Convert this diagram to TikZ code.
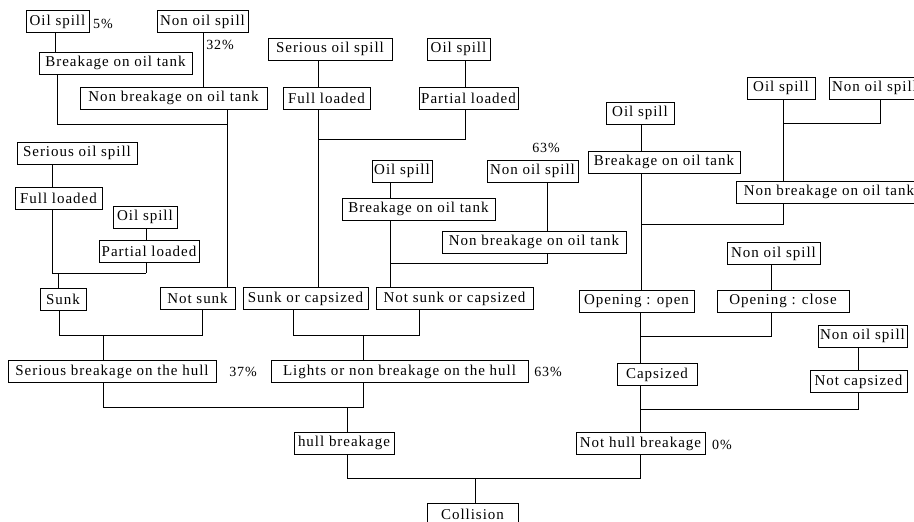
\documentclass[tikz,border=0pt]{standalone}
\usepackage{fontspec}
\setmainfont{Liberation Serif}[LetterSpace=6.5]
\begin{document}
\begin{tikzpicture}[x=1pt,y=-1pt,
  box/.style={draw, line width=0.9pt, inner sep=0pt, minimum height=22pt, font=\fontsize{15}{16}\selectfont},
  pct/.style={inner sep=0pt, font=\fontsize{14}{15}\selectfont},
  link/.style={line width=0.9pt}]
\useasboundingbox (0,0) rectangle (914,522);
\clip (0,0) rectangle (914,522);
% ---- nodes ----
\node[box, minimum width=63pt]  (os1)   at (57.5,21.5)  {Oil spill};
\node[box, minimum width=91pt]  (nos1)  at (202.5,21.5) {Non oil spill};
\node[box, minimum width=153pt] (bot1)  at (115.5,63)   {Breakage on oil tank};
\node[box, minimum width=187pt] (nbot1) at (173.5,98)   {Non breakage on oil tank};
\node[box, minimum width=120pt] (sos1)  at (77,153)     {Serious oil spill};
\node[box, minimum width=87pt]  (fl1)   at (58.5,198)   {Full loaded};
\node[box, minimum width=64pt]  (os2)   at (145,217)    {Oil spill};
\node[box, minimum width=100pt] (pl1)   at (149,251.5)  {Partial loaded};
\node[box, minimum width=46pt]  (sunk)  at (63,299)     {Sunk};
\node[box, minimum width=75pt]  (nsunk) at (197.5,298.5){Not sunk};
\node[box, minimum width=125pt] (soc)   at (305.5,298.5){Sunk or capsized};
\node[box, minimum width=157pt] (nsoc)  at (454.5,298.5){Not sunk or capsized};
\node[box, minimum width=208pt] (sbh)   at (112,371.5)  {Serious breakage on the hull};
\node[box, minimum width=257pt] (lnb)   at (399.5,371.5){Lights or non breakage on the hull};
\node[box, minimum width=100pt] (hb)    at (344,443)    {hull breakage};
\node[box, minimum width=129pt] (nhb)   at (640.5,443.5){Not hull breakage};
\node[box, minimum width=91pt]  (col)   at (472.5,514.5){Collision};
\node[box, minimum width=124pt] (sos2)  at (330,49)     {Serious oil spill};
\node[box, minimum width=63pt]  (os3)   at (458.5,49)   {Oil spill};
\node[box, minimum width=87pt]  (fl2)   at (326.5,98)   {Full loaded};
\node[box, minimum width=99pt]  (pl2)   at (468.5,98.5) {Partial loaded};
\node[box, minimum width=60pt]  (os4)   at (402,171)    {Oil spill};
\node[box, minimum width=91pt]  (nos2)  at (532.5,171)  {Non oil spill};
\node[box, minimum width=153pt] (bot2)  at (418.5,209)  {Breakage on oil tank};
\node[box, minimum width=184pt] (nbot2) at (534,242)    {Non breakage on oil tank};
\node[box, minimum width=68pt]  (os5)   at (640,113)    {Oil spill};
\node[box, minimum width=152pt] (bot3)  at (664,162)    {Breakage on oil tank};
\node[box, minimum width=68pt]  (os6)   at (781,88)     {Oil spill};
\node[box, minimum width=91pt]  (nos3)  at (874.5,88)   {Non oil spill};
\node[box, minimum width=186pt] (nbot3) at (829,192)    {Non breakage on oil tank};
\node[box, minimum width=115pt] (oo)    at (636.5,301)  {Opening : open};
\node[box, minimum width=93pt]  (nos4)  at (773.5,253.5){Non oil spill};
\node[box, minimum width=132pt] (oc)    at (783,301)    {Opening : close\hspace{12pt}};
\node[box, minimum width=80pt]  (cap)   at (657,374.5)  {Capsized};
\node[box, minimum width=89pt]  (nos5)  at (862.5,336)  {Non oil spill};
\node[box, minimum width=97pt]  (ncap)  at (858.5,381.5){Not capsized};
% ---- percentages ----
\node[pct, anchor=west] (p5)  at (93,24)   {5\%};
\node[pct] (p32) at (220,45)  {32\%};
\node[pct] (p63a) at (546,148) {63\%};
\node[pct] (p37) at (243,372) {37\%};
\node[pct] (p63b) at (548,372) {63\%};
\node[pct] (p0)  at (722,445) {0\%};
% ---- junction coordinates ----
\coordinate (A1) at (57,124);  \coordinate (A2) at (227,124);
\coordinate (B1) at (52,273);  \coordinate (B2) at (146,273); \coordinate (B3) at (58,273);
\coordinate (C1) at (59,335);  \coordinate (C2) at (202,335); \coordinate (C3) at (103,335);
\coordinate (D1) at (318,139); \coordinate (D2) at (465,139);
\coordinate (E1) at (390,263); \coordinate (E2) at (547,263);
\coordinate (F1) at (293,335); \coordinate (F2) at (419,335); \coordinate (F3) at (363,335);
\coordinate (G1) at (103,407); \coordinate (G2) at (363,407); \coordinate (G3) at (347,407);
\coordinate (H1) at (347,478); \coordinate (H2) at (640,478); \coordinate (H3) at (475,478);
\coordinate (I1) at (783,123); \coordinate (I2) at (880,123);
\coordinate (J1) at (641,224); \coordinate (J2) at (783,224);
\coordinate (K1) at (640,336); \coordinate (K2) at (771,336);
\coordinate (L1) at (640,409); \coordinate (L2) at (858,409);
\coordinate (S1) at (55,0);    \coordinate (S2) at (203,0);
% ---- connectors ----
\begin{scope}[link]
% top-left tree
\draw (S1 |- os1.south) -- (S1 |- bot1.north);
\draw (S2 |- nos1.south) -- (S2 |- nbot1.north);
\draw (A1 |- bot1.south) -- (A1) -- (A2);
\draw (A2 |- nbot1.south) -- (A2 |- nsunk.north);
% left-middle tree
\draw (B1 |- sos1.south) -- (B1 |- fl1.north);
\draw (B1 |- fl1.south) -- (B1) -- (B2);
\draw (B2 |- os2.south) -- (B2 |- pl1.north);
\draw (B2 |- pl1.south) -- (B2);
\draw (B3) -- (B3 |- sunk.north);
\draw (C1 |- sunk.south) -- (C1) -- (C2) -- (C2 |- nsunk.south);
\draw (C3) -- (C3 |- sbh.north);
% top-middle tree
\draw (D1 |- sos2.south) -- (D1 |- fl2.north);
\draw (D1 |- fl2.south) -- (D1) -- (D2) -- (D2 |- pl2.south);
\draw (D2 |- os3.south) -- (D2 |- pl2.north);
\draw (D1) -- (D1 |- soc.north);
% middle tree
\draw (E1 |- os4.south) -- (E1 |- bot2.north);
\draw (E2 |- nos2.south) -- (E2 |- nbot2.north);
\draw (E1 |- bot2.south) -- (E1 |- nsoc.north);
\draw (E1) -- (E2) -- (E2 |- nbot2.south);
\draw (F1 |- soc.south) -- (F1) -- (F2) -- (F2 |- nsoc.south);
\draw (F3) -- (F3 |- lnb.north);
\draw (G1 |- sbh.south) -- (G1) -- (G2) -- (G2 |- lnb.south);
\draw (G3) -- (G3 |- hb.north);
\draw (H1 |- hb.south) -- (H1) -- (H2) -- (H2 |- nhb.south);
\draw (H3) -- (H3 |- col.north);
% right tree
\draw (I1 |- os6.south) -- (I1 |- nbot3.north);
\draw (I1) -- (I2) -- (I2 |- nos3.south);
\draw (J1 |- os5.south) -- (J1 |- bot3.north);
\draw (J1 |- bot3.south) -- (J1 |- oo.north);
\draw (J1) -- (J2) -- (J2 |- nbot3.south);
\draw (K2 |- nos4.south) -- (K2 |- oc.north);
\draw (K2 |- oc.south) -- (K2) -- (K1);
\draw (K1 |- oo.south) -- (K1 |- cap.north);
\draw (L2 |- nos5.south) -- (L2 |- ncap.north);
\draw (L2 |- ncap.south) -- (L2) -- (L1);
\draw (L1 |- cap.south) -- (L1 |- nhb.north);
\end{scope}
\end{tikzpicture}
\end{document}
